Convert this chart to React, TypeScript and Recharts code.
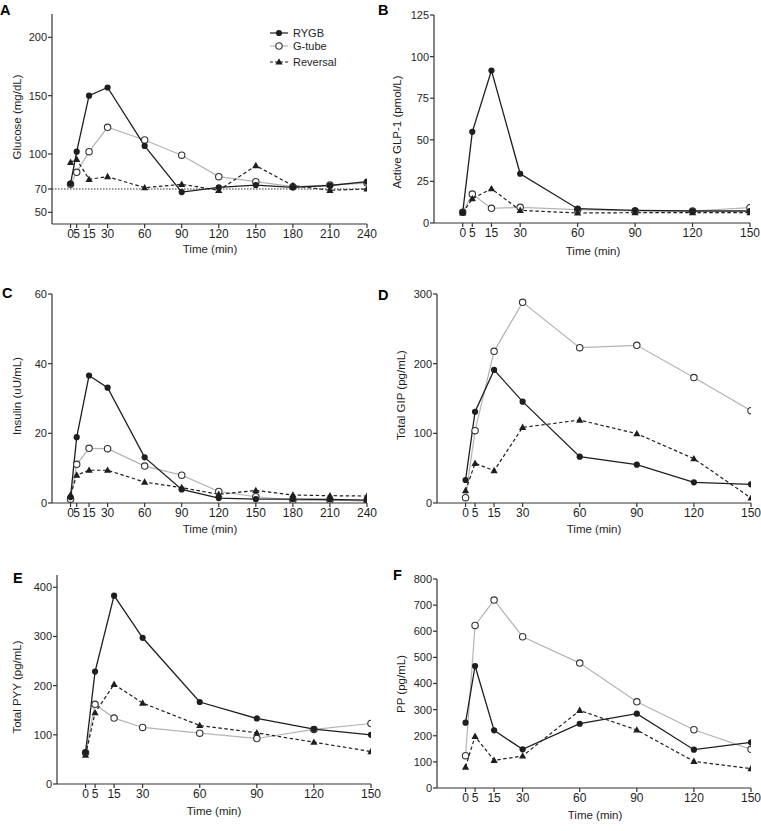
import React from "react";
import { LineChart, Line, XAxis, YAxis, ReferenceLine, Legend, Label } from "recharts";

const FONT = '"Liberation Sans", Arial, Helvetica, sans-serif';
const INK = "#1e1e1e";
const GREY = "#b4b4b4";

const timesLong = [0, 5, 15, 30, 60, 90, 120, 150, 180, 210, 240];
const timesShort = [0, 5, 15, 30, 60, 90, 120, 150];

const seriesNames = ["RYGB", "G-tube", "Reversal"];

// A: glucose (mg/dL)
const glucoseRygb = [74.6, 102, 150, 157, 106.9, 67.4, 71.4, 73.4, 71.4, 73, 76.3];
const glucoseGtube = [74, 84.3, 102, 122.9, 112, 99, 80.6, 76.3, 72, 73.4, 75.1];
const glucoseReversal = [92.9, 95.4, 78.3, 80.6, 71.1, 74, 68.9, 90, 72.9, 68.9, 70];

// B: active GLP-1 (pmol/L)
const glpRygb = [6.4, 54.8, 91.6, 29.6, 8.6, 7.6, 7.2, 7.2];
const glpGtube = [6.4, 17.4, 8.8, 9.4, 8, 7.2, 7.2, 9.2];
const glpReversal = [6, 14.6, 20.6, 7.6, 6, 6.2, 6.2, 6.2];

// C: insulin (uU/mL)
const insulinRygb = [1.7, 18.9, 36.6, 33.1, 13.1, 3.9, 1.4, 1.1, 1.1, 1, 0.8];
const insulinGtube = [1.1, 11.1, 15.7, 15.6, 10.6, 8, 3.3, 1.8, 0.8, 0.8, 0.6];
const insulinReversal = [2.3, 8, 9.4, 9.4, 6, 4.4, 2.5, 3.6, 2.3, 2.1, 2];

// D: total GIP (pg/mL)
const gipRygb = [33, 131, 191, 145.5, 66.5, 55, 29.7, 26.8];
const gipGtube = [7.7, 103.8, 217.7, 288, 223, 226.3, 180, 132.5];
const gipReversal = [17.7, 57, 46.4, 108.6, 119, 99.5, 63.6, 7.2];

// E: total PYY (pg/mL)
const pyyRygb = [64.6, 228.6, 383, 297.3, 166.7, 133.3, 111.6, 100];
const pyyGtube = [63.3, 162, 134, 115, 103.4, 92.5, 110.9, 123];
const pyyReversal = [58.5, 145, 202.7, 164.6, 119, 104, 85, 66];

// F: PP (pg/mL)
const ppRygb = [250, 467, 220.7, 148, 246, 284.4, 146.7, 174.7];
const ppGtube = [123.7, 622.4, 719.4, 579, 478, 330, 223, 148];
const ppReversal = [80, 197.7, 105.9, 122.4, 297, 222, 102, 74];

const rows = (times: number[], rygb: number[], gtube: number[], reversal: number[]) =>
  times.map((t, i) => ({ t, rygb: rygb[i], gtube: gtube[i], reversal: reversal[i] }));

const FilledDot = (p: any) => {
  if (p.cx == null || p.cy == null) return <g key={p.key} />;
  return <circle key={p.key} cx={p.cx} cy={p.cy} r={3.1} fill={INK} />;
};
const OpenDot = (p: any) => {
  if (p.cx == null || p.cy == null) return <g key={p.key} />;
  return <circle key={p.key} cx={p.cx} cy={p.cy} r={3.2} fill="#fff" stroke="#333" strokeWidth={1.1} />;
};
const TriDot = (p: any) => {
  if (p.cx == null || p.cy == null) return <g key={p.key} />;
  const { cx, cy } = p;
  return <path key={p.key} d={`M${cx},${cy - 3.8}L${cx + 3.6},${cy + 2.6}L${cx - 3.6},${cy + 2.6}Z`} fill={INK} />;
};

const legendRowY = [9, 22, 38];

const renderLegend = () => (
  <div style={{ position: "relative", width: 110, height: 48, fontFamily: FONT, fontSize: 11, color: INK }}>
    {seriesNames.map((name, i) => (
      <div
        key={name}
        style={{ position: "absolute", left: 0, top: legendRowY[i] - 7, height: 14, display: "flex", alignItems: "center", whiteSpace: "nowrap" }}
      >
        <svg width={18} height={14}>
          <line
            x1={0}
            y1={7}
            x2={18}
            y2={7}
            stroke={i === 1 ? GREY : INK}
            strokeWidth={1.2}
            strokeDasharray={i === 2 ? "3 2" : undefined}
          />
          {i === 0 && <circle cx={9} cy={7} r={3.1} fill={INK} />}
          {i === 1 && <circle cx={9} cy={7} r={3.2} fill="#fff" stroke="#333" strokeWidth={1.1} />}
          {i === 2 && <path d="M9,3.2L12.6,9.6L5.4,9.6Z" fill={INK} />}
        </svg>
        <span style={{ marginLeft: 5 }}>{name}</span>
      </div>
    ))}
  </div>
);

type PanelProps = {
  x0: number;
  x1: number;
  y0: number;
  y1: number;
  xDomain: [number, number];
  xTicks: number[];
  yDomain: [number, number];
  yTicks: number[];
  yLabel: string;
  yLabelPos: [number, number];
  xLabelPos: [number, number];
  data: any[];
  refLine?: number;
  legend?: boolean;
};

function Panel(props: PanelProps) {
  const { x0, x1, y0, y1 } = props;
  const left = x0 - 52;
  const top = y0 - 14;
  const width = x1 - x0 + 52 + 12;
  const height = y1 - y0 + 14 + 44;
  const lx = props.yLabelPos[0] - left;
  const ly = props.yLabelPos[1] - top;
  const tx = props.xLabelPos[0] - left;
  const ty = props.xLabelPos[1] - top;
  return (
    <div style={{ position: "absolute", left, top, width, height }}>
      <LineChart width={width} height={height} data={props.data} margin={{ top: 14, right: 12, bottom: 14, left: 22 }}>
        <XAxis
          dataKey="t"
          type="number"
          domain={props.xDomain}
          ticks={props.xTicks}
          interval={0}
          allowDataOverflow
          height={30}
          tickSize={4}
          tickMargin={1}
          stroke="#333"
          strokeWidth={1.2}
          tick={{ fontSize: 12, fill: INK, fontFamily: FONT }}
        >
          <Label
            content={() => (
              <text x={tx} y={ty} dy={4} textAnchor="middle" fontSize={11.5} fontFamily={FONT} fill={INK}>
                Time (min)
              </text>
            )}
          />
        </XAxis>
        <YAxis
          type="number"
          domain={props.yDomain}
          ticks={props.yTicks}
          interval={0}
          allowDataOverflow
          width={30}
          tickSize={4}
          tickMargin={1}
          stroke="#333"
          strokeWidth={1.2}
          tick={{ fontSize: 11, fill: INK, fontFamily: FONT }}
        >
          <Label
            content={() => (
              <text
                x={lx}
                y={ly}
                dy={4}
                transform={`rotate(-90 ${lx} ${ly})`}
                textAnchor="middle"
                fontSize={11.5}
                fontFamily={FONT}
                fill={INK}
              >
                {props.yLabel}
              </text>
            )}
          />
        </YAxis>
        {props.refLine != null && (
          <ReferenceLine y={props.refLine} stroke="#333" strokeWidth={1.1} strokeDasharray="1.5 1.5" />
        )}
        <Line
          dataKey="gtube"
          name={seriesNames[1]}
          stroke={GREY}
          strokeWidth={1.2}
          dot={OpenDot}
          activeDot={false}
          isAnimationActive={false}
        />
        <Line
          dataKey="reversal"
          name={seriesNames[2]}
          stroke={INK}
          strokeWidth={1.2}
          strokeDasharray="3.5 2.5"
          dot={TriDot}
          activeDot={false}
          isAnimationActive={false}
        />
        <Line
          dataKey="rygb"
          name={seriesNames[0]}
          stroke={INK}
          strokeWidth={1.3}
          dot={FilledDot}
          activeDot={false}
          isAnimationActive={false}
        />
        {props.legend && (
          <Legend
            layout="vertical"
            align="center"
            verticalAlign="middle"
            wrapperStyle={{ left: 270 - left, top: 24 - top, width: 110, height: 48 }}
            content={renderLegend}
          />
        )}
      </LineChart>
    </div>
  );
}

const letterStyle = (left: number, top: number): React.CSSProperties => ({
  position: "absolute",
  left,
  top,
  fontFamily: FONT,
  fontWeight: "bold",
  fontSize: 14.5,
  lineHeight: "15px",
  color: "#000",
});

export default function App() {
  return (
    <div style={{ position: "absolute", left: 0, top: 0, width: 761, height: 831, background: "#fff", overflow: "hidden" }}>
      <Panel
        x0={52}
        x1={367}
        y0={14}
        y1={224}
        xDomain={[-15, 240]}
        xTicks={timesLong}
        yDomain={[40, 220]}
        yTicks={[50, 70, 100, 150, 200]}
        yLabel="Glucose (mg/dL)"
        yLabelPos={[17, 117]}
        xLabelPos={[210, 249]}
        data={rows(timesLong, glucoseRygb, glucoseGtube, glucoseReversal)}
        refLine={70}
        legend
      />
      <Panel
        x0={434}
        x1={750}
        y0={15}
        y1={223}
        xDomain={[-15, 150]}
        xTicks={timesShort}
        yDomain={[0, 125]}
        yTicks={[0, 25, 50, 75, 100, 125]}
        yLabel="Active GLP-1 (pmol/L)"
        yLabelPos={[397, 132]}
        xLabelPos={[593, 251]}
        data={rows(timesShort, glpRygb, glpGtube, glpReversal)}
      />
      <Panel
        x0={52}
        x1={367}
        y0={294}
        y1={503}
        xDomain={[-15, 240]}
        xTicks={timesLong}
        yDomain={[0, 60]}
        yTicks={[0, 20, 40, 60]}
        yLabel="Insulin (uU/mL)"
        yLabelPos={[17, 396]}
        xLabelPos={[210, 529]}
        data={rows(timesLong, insulinRygb, insulinGtube, insulinReversal)}
      />
      <Panel
        x0={437}
        x1={751}
        y0={294}
        y1={503}
        xDomain={[-15, 150]}
        xTicks={timesShort}
        yDomain={[0, 300]}
        yTicks={[0, 100, 200, 300]}
        yLabel="Total GIP (pg/mL)"
        yLabelPos={[401, 395]}
        xLabelPos={[594, 529]}
        data={rows(timesShort, gipRygb, gipGtube, gipReversal)}
      />
      <Panel
        x0={57}
        x1={371}
        y0={575}
        y1={784}
        xDomain={[-15, 150]}
        xTicks={timesShort}
        yDomain={[0, 425]}
        yTicks={[0, 100, 200, 300, 400]}
        yLabel="Total PYY (pg/mL)"
        yLabelPos={[17, 687]}
        xLabelPos={[214, 811]}
        data={rows(timesShort, pyyRygb, pyyGtube, pyyReversal)}
      />
      <Panel
        x0={437}
        x1={751}
        y0={579}
        y1={788}
        xDomain={[-15, 150]}
        xTicks={timesShort}
        yDomain={[0, 800]}
        yTicks={[0, 100, 200, 300, 400, 500, 600, 700, 800]}
        yLabel="PP (pg/mL)"
        yLabelPos={[401, 684]}
        xLabelPos={[595, 815]}
        data={rows(timesShort, ppRygb, ppGtube, ppReversal)}
      />
      <div style={letterStyle(0, 3)}>A</div>
      <div style={letterStyle(378, 3)}>B</div>
      <div style={letterStyle(2, 286)}>C</div>
      <div style={letterStyle(378, 288)}>D</div>
      <div style={letterStyle(13, 571)}>E</div>
      <div style={letterStyle(393, 568)}>F</div>
    </div>
  );
}
